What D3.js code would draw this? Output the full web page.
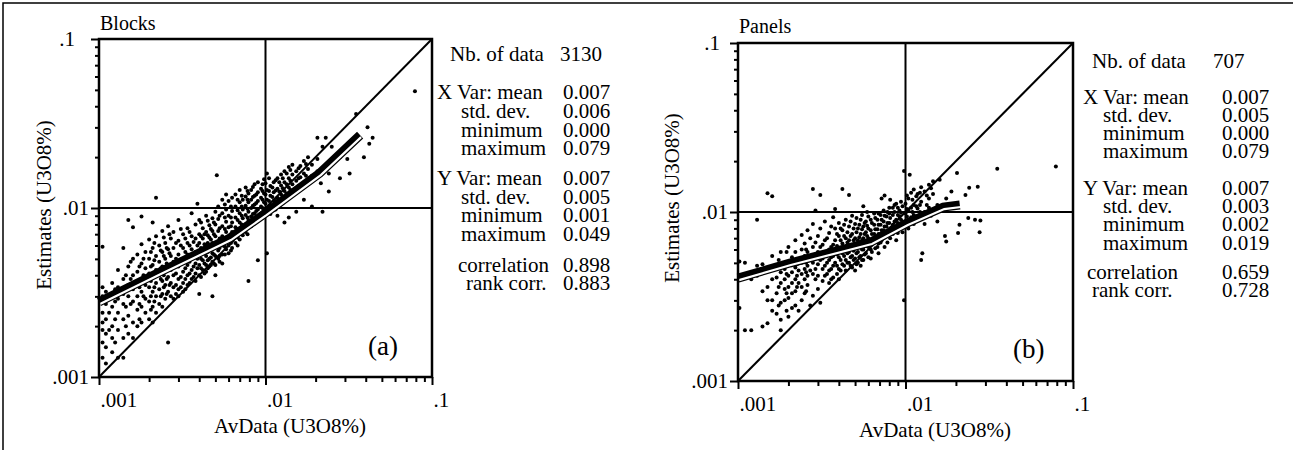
<!DOCTYPE html>
<html>
<head>
<meta charset="utf-8">
<script src="https://cdn.jsdelivr.net/npm/d3@7"></script>
<style>
  body { margin: 0; background: #fff; }
  svg text { font-family: "Liberation Serif", "Times New Roman", serif; fill: #000; }
</style>
</head>
<body>
<svg id="chart" width="1293" height="450"></svg>
<script>
// ---- data ----
const majorTicks = [0.001, 0.01, 0.1];
const tickLabels = [".001", ".01", ".1"];
const minorTicks = [2, 3, 4, 5, 6, 7, 8, 9, 20, 30, 40, 50, 60, 70, 80, 90].map(d => d / 1000);

const statLabels = ["Nb. of data", "X Var: mean", "std. dev.", "minimum", "maximum",
                    "Y Var: mean", "std. dev.", "minimum", "maximum", "correlation", "rank corr."];
const blocksStats = ["3130", "0.007", "0.006", "0.000", "0.079", "0.007", "0.005", "0.001", "0.049", "0.898", "0.883"];
const panelsStats = ["707", "0.007", "0.005", "0.000", "0.079", "0.007", "0.003", "0.002", "0.019", "0.659", "0.728"];

// smoothed conditional curve (x, y)
const blocksCurve = [[0.001, 0.00278], [0.00232, 0.00418], [0.00612, 0.00664], [0.01, 0.00933], [0.0212, 0.0161], [0.037, 0.027]];
const panelsCurve = [[0.001, 0.00406], [0.00204, 0.00499], [0.00622, 0.00664], [0.0102, 0.0086], [0.0168, 0.0107], [0.0211, 0.011]];

// scatter points, grouped by AvData column: [x, [y, y, ...]]
const blocksCols = [
  [0.00105, [0.0059, 0.0034, 0.0030, 0.0024, 0.0021, 0.0019, 0.0016, 0.0013]],
  [0.0011, [0.0032, 0.0027, 0.0022, 0.0018, 0.0015, 0.0012]],
  [0.00115, [0.0029, 0.0024, 0.0019]],
  [0.0012, [0.0036, 0.0031, 0.0026, 0.0020, 0.0017, 0.0014]],
  [0.00125, [0.0033, 0.0028, 0.0022, 0.0016]],
  [0.0013, [0.0043, 0.0034, 0.0029, 0.0024, 0.0019, 0.0013]],
  [0.0014, [0.0058, 0.0038, 0.0031, 0.0027, 0.0022, 0.0017, 0.0013]],
  [0.00145, [0.0040, 0.0033, 0.0026, 0.0020]],
  [0.0015, [0.0085, 0.0045, 0.0035, 0.0030, 0.0023, 0.0018]],
  [0.00155, [0.0048, 0.0038, 0.0027]],
  [0.0016, [0.0077, 0.0050, 0.0040, 0.0033, 0.0028, 0.0021, 0.0017]],
  [0.0017, [0.0053, 0.0042, 0.0036, 0.0030, 0.0025, 0.0020]],
  [0.00175, [0.0045, 0.0034, 0.0027, 0.0022]],
  [0.0018, [0.0089, 0.0061, 0.0047, 0.0038, 0.0032, 0.0026, 0.0021]],
  [0.00185, [0.0050, 0.0040, 0.0030]],
  [0.0019, [0.0055, 0.0044, 0.0035, 0.0029, 0.0024]],
  [0.0020, [0.0065, 0.0050, 0.0041, 0.0034, 0.0028, 0.0022]],
  [0.00205, [0.0055, 0.0045, 0.0037, 0.0030, 0.0025]],
  [0.0021, [0.0082, 0.0058, 0.0046, 0.0039, 0.0032, 0.0026, 0.0021]],
  [0.00215, [0.0062, 0.0049, 0.0041, 0.0034, 0.0028]],
  [0.0022, [0.0115, 0.0068, 0.0052, 0.0043, 0.0036, 0.0030, 0.0024]],
  [0.0023, [0.0060, 0.0048, 0.0040, 0.0033, 0.0027]],
  [0.00235, [0.0056, 0.0044, 0.0038, 0.0030]],
  [0.0024, [0.0073, 0.0055, 0.0045, 0.0037, 0.0031, 0.0026]],
  [0.00245, [0.0067, 0.0052, 0.0040, 0.0034]],
  [0.0025, [0.0062, 0.0050, 0.0042, 0.0035, 0.0029]],
  [0.00255, [0.0058, 0.0047, 0.0038, 0.0031]],
  [0.0026, [0.0078, 0.0057, 0.0046, 0.0039, 0.0032, 0.0016]],
  [0.00265, [0.0070, 0.0054, 0.0044, 0.0035]],
  [0.0027, [0.0066, 0.0052, 0.0043, 0.0036, 0.0030]],
  [0.0028, [0.0072, 0.0058, 0.0048, 0.0040, 0.0034, 0.0029]],
  [0.0029, [0.0062, 0.0050, 0.0041, 0.0035, 0.0031]],
  [0.0030, [0.0085, 0.0064, 0.0053, 0.0045, 0.0038, 0.0033, 0.0030]],
  [0.0031, [0.0075, 0.0060, 0.0047, 0.0039, 0.0034]],
  [0.0032, [0.0070, 0.0058, 0.0049, 0.0042, 0.0036, 0.0032]],
  [0.0033, [0.0066, 0.0055, 0.0044, 0.0038, 0.0033]],
  [0.0034, [0.0076, 0.0062, 0.0053, 0.0046, 0.0040, 0.0035]],
  [0.0035, [0.0072, 0.0060, 0.0048, 0.0041, 0.0036]],
  [0.0036, [0.0093, 0.0068, 0.0057, 0.0050, 0.0043, 0.0038]],
  [0.0037, [0.0063, 0.0052, 0.0045, 0.0039]],
  [0.0038, [0.0080, 0.0066, 0.0055, 0.0047, 0.0041, 0.0037]],
  [0.0039, [0.0106, 0.0060, 0.0050, 0.0044]],
  [0.0040, [0.0085, 0.0070, 0.0062, 0.0053, 0.0046, 0.0040, 0.0031]],
  [0.0041, [0.0082, 0.0068, 0.0058, 0.0050, 0.0044, 0.0039]],
  [0.0042, [0.0076, 0.0066, 0.0056, 0.0049, 0.0043]],
  [0.0043, [0.0070, 0.0061, 0.0054, 0.0047, 0.0041]],
  [0.0044, [0.0090, 0.0072, 0.0060, 0.0052, 0.0046, 0.0042]],
  [0.0045, [0.0084, 0.0069, 0.0062, 0.0055, 0.0049, 0.0044]],
  [0.0046, [0.0079, 0.0067, 0.0058, 0.0050, 0.0045]],
  [0.0047, [0.0075, 0.0065, 0.0057, 0.0051, 0.0046]],
  [0.0048, [0.0087, 0.0073, 0.0062, 0.0054, 0.0048, 0.0030]],
  [0.0049, [0.0082, 0.0070, 0.0060, 0.0053, 0.0047]],
  [0.0050, [0.0095, 0.0080, 0.0068, 0.0059, 0.0052, 0.0046, 0.0040]],
  [0.0051, [0.0156]],
  [0.0052, [0.0102, 0.0086, 0.0073, 0.0063, 0.0056, 0.0050]],
  [0.0053, [0.0090, 0.0076, 0.0066, 0.0058, 0.0052, 0.0048]],
  [0.0055, [0.0112, 0.0093, 0.0078, 0.0068, 0.0060, 0.0053, 0.0047]],
  [0.0057, [0.0105, 0.0088, 0.0075, 0.0066, 0.0059, 0.0053]],
  [0.0058, [0.0120, 0.0098, 0.0083, 0.0072, 0.0064, 0.0057]],
  [0.0060, [0.0110, 0.0090, 0.0077, 0.0068, 0.0060, 0.0054]],
  [0.0062, [0.0102, 0.0088, 0.0078, 0.0070, 0.0062, 0.0056]],
  [0.0063, [0.0115, 0.0096, 0.0082, 0.0072, 0.0064, 0.0058]],
  [0.0066, [0.0120, 0.0102, 0.0088, 0.0077, 0.0068, 0.0062]],
  [0.0068, [0.0112, 0.0097, 0.0085, 0.0075, 0.0067, 0.0060]],
  [0.0070, [0.0128, 0.0108, 0.0093, 0.0082, 0.0072, 0.0065]],
  [0.0072, [0.0118, 0.0102, 0.0090, 0.0080, 0.0071]],
  [0.0073, [0.0112, 0.0098, 0.0087, 0.0076, 0.0069]],
  [0.0076, [0.0132, 0.0117, 0.0103, 0.0091, 0.0080, 0.0072]],
  [0.0078, [0.0126, 0.0112, 0.0099, 0.0088, 0.0079, 0.0070]],
  [0.0079, [0.0122, 0.0108, 0.0095, 0.0085, 0.0037]],
  [0.0082, [0.0128, 0.0112, 0.0100, 0.0089, 0.0078]],
  [0.0084, [0.0133, 0.0116, 0.0103, 0.0092, 0.0082]],
  [0.0086, [0.0138, 0.0118, 0.0105, 0.0093, 0.0083]],
  [0.0088, [0.0120, 0.0107, 0.0096, 0.0086]],
  [0.0090, [0.0142, 0.0124, 0.0110, 0.0098, 0.0088, 0.0049]],
  [0.0094, [0.0130, 0.0115, 0.0102, 0.0090]],
  [0.0096, [0.0138, 0.0126, 0.0112, 0.0100, 0.0088]],
  [0.0098, [0.0148, 0.0122, 0.0108, 0.0095]],
  [0.0100, [0.0140, 0.0120, 0.0106, 0.0094]],
  [0.0102, [0.0160, 0.0128, 0.0112, 0.0100, 0.0054]],
  [0.0105, [0.0150, 0.0126, 0.0110, 0.0098]],
  [0.0107, [0.0135, 0.0118, 0.0104, 0.0092]],
  [0.0110, [0.0132, 0.0116, 0.0103]],
  [0.0112, [0.0142, 0.0124, 0.0110, 0.0097]],
  [0.0115, [0.0146, 0.0127, 0.0110, 0.0098]],
  [0.0118, [0.0150, 0.0130, 0.0115, 0.0090]],
  [0.0121, [0.0142, 0.0125, 0.0112]],
  [0.0124, [0.0158, 0.0136, 0.0120, 0.0105]],
  [0.0127, [0.0150, 0.0131, 0.0116]],
  [0.0130, [0.0165, 0.0142, 0.0126, 0.0110, 0.0082]],
  [0.0134, [0.0160, 0.0138, 0.0122]],
  [0.0138, [0.0175, 0.0150, 0.0132, 0.0088]],
  [0.0141, [0.0168, 0.0145, 0.0128]],
  [0.0145, [0.0180, 0.0158, 0.0138, 0.0120]],
  [0.0153, [0.0165, 0.0145, 0.0125, 0.0095]],
  [0.0158, [0.0172, 0.0150, 0.0135]],
  [0.0162, [0.0177, 0.0152, 0.0132]],
  [0.0170, [0.0190, 0.0160, 0.0140, 0.0112]],
  [0.0175, [0.0182, 0.0155]],
  [0.0180, [0.0200, 0.0170, 0.0148]],
  [0.0190, [0.0180, 0.0155, 0.0102]],
  [0.0205, [0.0260, 0.0195, 0.0165]],
  [0.0215, [0.0140]],
  [0.0220, [0.0230, 0.0095]],
  [0.0230, [0.0260, 0.0175]],
  [0.0240, [0.0160, 0.0125]],
  [0.0250, [0.0230]],
  [0.0280, [0.0200, 0.0150]],
  [0.0310, [0.0195]],
  [0.0320, [0.0160]],
  [0.0350, [0.0360]],
  [0.0390, [0.0200]],
  [0.0410, [0.0300]],
  [0.0420, [0.0240]],
  [0.0440, [0.0260]],
  [0.0790, [0.0490]]
];

const panelsCols = [
  [0.00102, [0.0051, 0.0027]],
  [0.0011, [0.0050, 0.0020]],
  [0.0012, [0.0040, 0.0020]],
  [0.0013, [0.0090, 0.0048, 0.0042]],
  [0.0014, [0.0049, 0.0034, 0.0021]],
  [0.0015, [0.0129, 0.0045, 0.0036, 0.0030, 0.0022]],
  [0.0016, [0.0124, 0.0055, 0.0040, 0.0030, 0.0026]],
  [0.0017, [0.0047, 0.0041, 0.0033, 0.0025]],
  [0.00175, [0.0052, 0.0036, 0.0028]],
  [0.0018, [0.0058, 0.0044, 0.0038, 0.0029, 0.0023, 0.0020]],
  [0.0019, [0.0046, 0.0040, 0.0035, 0.0030]],
  [0.00195, [0.0058, 0.0043, 0.0033, 0.0026]],
  [0.0020, [0.0062, 0.0050, 0.0042, 0.0036, 0.0031, 0.0024]],
  [0.0021, [0.0054, 0.0044, 0.0038, 0.0033, 0.0027]],
  [0.0022, [0.0068, 0.0058, 0.0047, 0.0040, 0.0034, 0.0028]],
  [0.00225, [0.0049, 0.0042, 0.0036]],
  [0.0023, [0.0052, 0.0045, 0.0038, 0.0026]],
  [0.0024, [0.0073, 0.0060, 0.0050, 0.0043, 0.0036, 0.0030]],
  [0.0025, [0.0065, 0.0055, 0.0046, 0.0040, 0.0033]],
  [0.00255, [0.0060, 0.0050, 0.0044, 0.0034]],
  [0.0026, [0.0078, 0.0058, 0.0048, 0.0042, 0.0037]],
  [0.0027, [0.0070, 0.0052, 0.0045, 0.0028]],
  [0.0028, [0.0137, 0.0085, 0.0062, 0.0050, 0.0043, 0.0032]],
  [0.0029, [0.0102, 0.0066, 0.0054, 0.0046, 0.0040]],
  [0.0030, [0.0072, 0.0058, 0.0049, 0.0042, 0.0035]],
  [0.0031, [0.0126, 0.0080, 0.0062, 0.0052, 0.0029]],
  [0.0032, [0.0064, 0.0053, 0.0046, 0.0039]],
  [0.0033, [0.0088, 0.0068, 0.0056, 0.0048, 0.0042]],
  [0.0034, [0.0070, 0.0058, 0.0050, 0.0043]],
  [0.0035, [0.0075, 0.0060, 0.0052, 0.0045, 0.0038]],
  [0.0036, [0.0082, 0.0062, 0.0054, 0.0046, 0.0040]],
  [0.0037, [0.0093, 0.0064, 0.0055, 0.0048, 0.0041]],
  [0.0038, [0.0104, 0.0080, 0.0068, 0.0058, 0.0050]],
  [0.0039, [0.0074, 0.0063, 0.0056, 0.0048, 0.0043]],
  [0.0040, [0.0086, 0.0072, 0.0061, 0.0054, 0.0046, 0.0040]],
  [0.0041, [0.0080, 0.0068, 0.0059, 0.0052, 0.0045]],
  [0.0042, [0.0137, 0.0078, 0.0065, 0.0057, 0.0049]],
  [0.0043, [0.0084, 0.0072, 0.0062, 0.0055, 0.0048]],
  [0.0044, [0.0090, 0.0070, 0.0060, 0.0052, 0.0045]],
  [0.0045, [0.0076, 0.0066, 0.0057, 0.0050]],
  [0.0046, [0.0126, 0.0082, 0.0068, 0.0058, 0.0050]],
  [0.0047, [0.0088, 0.0072, 0.0062, 0.0054, 0.0048]],
  [0.0048, [0.0095, 0.0074, 0.0063, 0.0055, 0.0047]],
  [0.0049, [0.0080, 0.0068, 0.0059, 0.0052]],
  [0.0050, [0.0085, 0.0070, 0.0061, 0.0053, 0.0045]],
  [0.0051, [0.0092, 0.0076, 0.0065, 0.0057, 0.0049]],
  [0.0052, [0.0080, 0.0068, 0.0058, 0.0050]],
  [0.0053, [0.0084, 0.0071, 0.0062, 0.0054]],
  [0.0054, [0.0090, 0.0074, 0.0064, 0.0055, 0.0048]],
  [0.0055, [0.0096, 0.0079, 0.0068, 0.0060, 0.0052]],
  [0.0056, [0.0108, 0.0082, 0.0070, 0.0060, 0.0052]],
  [0.0057, [0.0086, 0.0074, 0.0064, 0.0056]],
  [0.0058, [0.0088, 0.0076, 0.0066, 0.0057]],
  [0.0059, [0.0100, 0.0083, 0.0072, 0.0063]],
  [0.0060, [0.0094, 0.0080, 0.0070, 0.0062, 0.0054]],
  [0.0062, [0.0090, 0.0078, 0.0068, 0.0060, 0.0053]],
  [0.0063, [0.0086, 0.0074, 0.0066, 0.0058]],
  [0.0065, [0.0098, 0.0084, 0.0074, 0.0066]],
  [0.0066, [0.0092, 0.0079, 0.0070, 0.0061]],
  [0.0068, [0.0090, 0.0079, 0.0070, 0.0062]],
  [0.0069, [0.0098, 0.0084, 0.0074, 0.0065, 0.0057]],
  [0.0071, [0.0096, 0.0084, 0.0074, 0.0066]],
  [0.0072, [0.0120, 0.0090, 0.0078, 0.0068]],
  [0.0074, [0.0102, 0.0088, 0.0078, 0.0070]],
  [0.0075, [0.0125, 0.0095, 0.0082, 0.0072, 0.0062]],
  [0.0077, [0.0094, 0.0082, 0.0073]],
  [0.0078, [0.0100, 0.0086, 0.0076, 0.0066]],
  [0.0080, [0.0106, 0.0098, 0.0086, 0.0076]],
  [0.0081, [0.0118, 0.0092, 0.0080, 0.0070]],
  [0.0084, [0.0106, 0.0096, 0.0084, 0.0074]],
  [0.0086, [0.0110, 0.0100, 0.0088, 0.0079]],
  [0.0088, [0.0112, 0.0090, 0.0078, 0.0068]],
  [0.0090, [0.0106, 0.0096, 0.0086, 0.0075]],
  [0.0092, [0.0102, 0.0094, 0.0082]],
  [0.0094, [0.0115, 0.0099, 0.0090]],
  [0.0096, [0.0108, 0.0088, 0.0076]],
  [0.0098, [0.0175, 0.0030]],
  [0.0100, [0.0112, 0.0098, 0.0085]],
  [0.0102, [0.0125, 0.0104, 0.0094, 0.0083]],
  [0.0104, [0.0120, 0.0102, 0.0090, 0.0080]],
  [0.0106, [0.0166]],
  [0.0108, [0.0130, 0.0106, 0.0093]],
  [0.0110, [0.0118, 0.0100, 0.0090]],
  [0.0112, [0.0136, 0.0110, 0.0096, 0.0085]],
  [0.0116, [0.0124, 0.0108, 0.0094]],
  [0.0118, [0.0128, 0.0105, 0.0090]],
  [0.0122, [0.0130, 0.0110, 0.0100]],
  [0.0124, [0.0140, 0.0115, 0.0095, 0.0052]],
  [0.0126, [0.0057]],
  [0.0130, [0.0132, 0.0100, 0.0085]],
  [0.0134, [0.0125, 0.0110]],
  [0.0138, [0.0145, 0.0120, 0.0106]],
  [0.0142, [0.0138, 0.0095]],
  [0.0146, [0.0152, 0.0128]],
  [0.0155, [0.0110, 0.0088]],
  [0.0160, [0.0155]],
  [0.0172, [0.0072]],
  [0.0175, [0.0067, 0.0120]],
  [0.0188, [0.0132]],
  [0.0203, [0.0170]],
  [0.0206, [0.0075]],
  [0.0210, [0.0084]],
  [0.0228, [0.0126]],
  [0.0237, [0.0092]],
  [0.0240, [0.0139]],
  [0.0260, [0.0090]],
  [0.0270, [0.0141]],
  [0.0277, [0.0076]],
  [0.0280, [0.0089]],
  [0.0353, [0.0180]],
  [0.0790, [0.0186]]
];

// ---- layout of the two panels ----
const panels = [
  { title: "Blocks", tag: "(a)", cols: blocksCols, curve: blocksCurve, stats: blocksStats,
    left: 99, top: 39, right: 432, bottom: 377, yTitleX: 51, yTitleY: 205, xTitleX: 290, xTitleY: 433,
    titleY: 30, tagX: 368, tagY: 355, topLabelShift: -14,
    statRows: [61, 99, 118, 137, 155, 185, 204, 222, 241, 272, 290],
    statX: [450, 437, 461, 461, 461, 437, 461, 461, 461, 458, 466], valueX: 563, nbX: 560 },
  { title: "Panels", tag: "(b)", cols: panelsCols, curve: panelsCurve, stats: panelsStats,
    left: 738, top: 43, right: 1073, bottom: 381, yTitleX: 679, yTitleY: 198, xTitleX: 935, xTitleY: 437,
    titleY: 33, tagX: 1013, tagY: 358, topLabelShift: -8,
    statRows: [68, 104, 122, 140, 158, 195, 213, 231, 250, 279, 297],
    statX: [1092, 1083, 1103, 1103, 1103, 1083, 1103, 1103, 1103, 1087, 1092], valueX: 1222, nbX: 1213 }
];

const svg = d3.select("#chart");

// outer frame (top and left edges only are visible)
svg.append("path")
  .attr("d", "M3,450 L3,3 L1293,3")
  .attr("fill", "none").attr("stroke", "#000").attr("stroke-width", 1.5);

panels.forEach(p => {
  const x = d3.scaleLog().domain([0.001, 0.1]).range([p.left, p.right]);
  const y = d3.scaleLog().domain([0.001, 0.1]).range([p.bottom, p.top]);
  const g = svg.append("g");

  // reference lines at .01 and the 1:1 diagonal
  g.append("line").attr("x1", x(0.01)).attr("x2", x(0.01)).attr("y1", y(0.1)).attr("y2", y(0.001))
    .attr("stroke", "#000").attr("stroke-width", 2);
  g.append("line").attr("x1", x(0.001)).attr("x2", x(0.1)).attr("y1", y(0.01)).attr("y2", y(0.01))
    .attr("stroke", "#000").attr("stroke-width", 2);
  g.append("line").attr("x1", x(0.001)).attr("y1", y(0.001)).attr("x2", x(0.1)).attr("y2", y(0.1))
    .attr("stroke", "#000").attr("stroke-width", 2);

  // scatter
  const pts = p.cols.flatMap(c => c[1].map(v => [c[0], v]));
  g.append("g").selectAll("circle").data(pts).join("circle")
    .attr("cx", d => x(d[0])).attr("cy", d => y(d[1])).attr("r", 2).attr("fill", "#000");

  // smoothed curve: thick black with a white stripe on its lower side
  const line = d3.line().x(d => x(d[0])).y(d => y(d[1]));
  g.append("path").datum(p.curve).attr("d", line)
    .attr("fill", "none").attr("stroke", "#000").attr("stroke-width", 9);
  g.append("path").datum(p.curve).attr("d", line).attr("transform", "translate(1,2)")
    .attr("fill", "none").attr("stroke", "#fff").attr("stroke-width", 2.2);

  // frame
  g.append("rect").attr("x", p.left).attr("y", p.top)
    .attr("width", p.right - p.left).attr("height", p.bottom - p.top)
    .attr("fill", "none").attr("stroke", "#000").attr("stroke-width", 2.5);

  // y axis: minor then major ticks
  g.append("g").attr("transform", `translate(${p.left},0)`)
    .call(d3.axisLeft(y).tickValues(minorTicks).tickSize(4).tickFormat(""))
    .call(a => a.select(".domain").remove())
    .call(a => a.selectAll("line").attr("stroke-width", 2));
  g.append("g").attr("transform", `translate(${p.left},0)`)
    .call(d3.axisLeft(y).tickValues(majorTicks).tickSize(8).tickPadding(2)
      .tickFormat((d, i) => tickLabels[i]))
    .call(a => a.select(".domain").remove())
    .call(a => a.selectAll("line").attr("stroke-width", 2))
    .call(a => a.selectAll("text")
      .attr("font-family", "Liberation Serif").attr("font-size", 21)
      .attr("dx", d => d === 0.1 ? p.topLabelShift : 0));

  // x axis
  g.append("g").attr("transform", `translate(0,${p.bottom})`)
    .call(d3.axisBottom(x).tickValues(minorTicks).tickSize(5).tickFormat(""))
    .call(a => a.select(".domain").remove())
    .call(a => a.selectAll("line").attr("stroke-width", 2));
  g.append("g").attr("transform", `translate(0,${p.bottom})`)
    .call(d3.axisBottom(x).tickValues(majorTicks).tickSize(8)
      .tickFormat((d, i) => tickLabels[i]))
    .call(a => a.select(".domain").remove())
    .call(a => a.selectAll("line").attr("stroke-width", 2))
    .call(a => a.selectAll("text")
      .attr("font-family", "Liberation Serif").attr("font-size", 21)
      .attr("text-anchor", "start").attr("x", 1).attr("y", 30).attr("dy", 0));

  // titles
  g.append("text").attr("x", p.left + 1).attr("y", p.titleY).attr("font-size", 20).text(p.title);
  g.append("text").attr("x", p.xTitleX).attr("y", p.xTitleY).attr("text-anchor", "middle")
    .attr("font-size", 21).text("AvData (U3O8%)");
  g.append("text").attr("transform", `translate(${p.yTitleX},${p.yTitleY}) rotate(-90)`)
    .attr("text-anchor", "middle").attr("font-size", 21).text("Estimates (U3O8%)");
  g.append("text").attr("x", p.tagX).attr("y", p.tagY).attr("font-size", 27).text(p.tag);

  // statistics block
  const sg = g.append("g").attr("font-size", 21);
  statLabels.forEach((lab, i) => {
    sg.append("text").attr("x", p.statX[i]).attr("y", p.statRows[i]).text(lab);
    sg.append("text").attr("x", i === 0 ? p.nbX : p.valueX).attr("y", p.statRows[i]).text(p.stats[i]);
  });
});
</script>
</body>
</html>
